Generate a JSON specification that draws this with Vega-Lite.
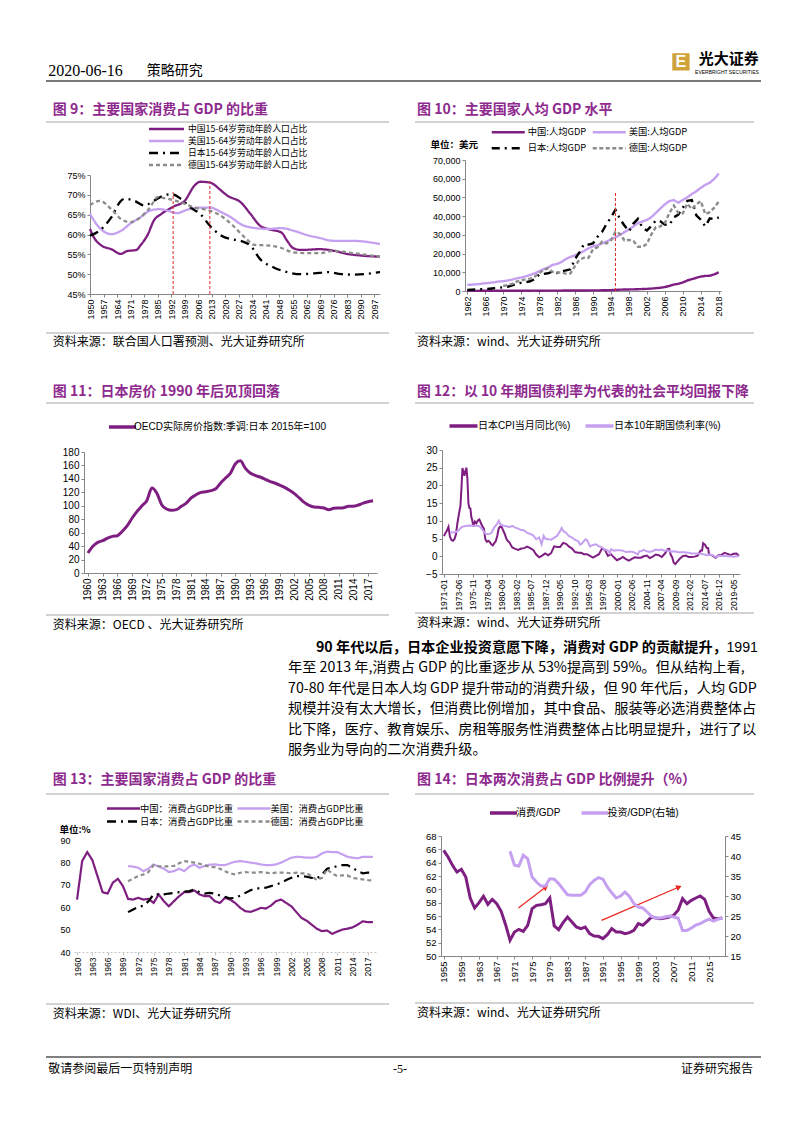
{
"$schema": "https://vega.github.io/schema/vega-lite/v6.json",
"background": "white",
"padding": {"left": 45, "top": 48, "right": 0, "bottom": 0},
"config": {
  "view": {"stroke": null},
  "font": "Liberation Sans",
  "axis": {"grid": false, "domainColor": "#868686", "tickColor": "#868686", "labelColor": "#000000", "labelFont": "Liberation Sans", "tickSize": 3, "labelPadding": 2}
},
"spacing": 0,
"align": "none",
"resolve": {"scale": {"color": "independent", "strokeDash": "independent"}},
"vconcat": [
{
  "width": 715, "height": 33,
  "layer": [
    {"data": {"values": [{}]}, "mark": {"type": "rule", "color": "#7a7a7a", "strokeWidth": 2},
     "encoding": {"y": {"datum": 0, "scale": {"domain": [0, 1]}, "axis": null}}},
    {"data": {"values": [{"t": "2020-06-16"}]}, "mark": {"type": "text", "align": "left", "baseline": "middle", "font": "Liberation Sans Narrow", "fontSize": 16, "color": "#000"},
     "encoding": {"text": {"field": "t"}, "x": {"datum": 0.003, "scale": {"domain": [0, 1]}, "axis": null}, "y": {"datum": 0.3, "scale": {"domain": [0, 1]}, "axis": null}}},
    {"data": {"values": [{"t": "策略研究"}]}, "mark": {"type": "text", "align": "left", "baseline": "middle", "font": "Noto Sans CJK SC", "fontSize": 14, "color": "#000"},
     "encoding": {"text": {"field": "t"}, "x": {"datum": 0.141, "scale": {"domain": [0, 1]}, "axis": null}, "y": {"datum": 0.3, "scale": {"domain": [0, 1]}, "axis": null}}},
    {"data": {"values": [{}]}, "mark": {"type": "point", "shape": "square", "filled": true, "color": "#CFA33A", "size": 300, "opacity": 1},
     "encoding": {"x": {"datum": 0.888, "scale": {"domain": [0, 1]}, "axis": null}, "y": {"datum": 0.58, "scale": {"domain": [0, 1]}, "axis": null}}},
    {"data": {"values": [{"t": "E"}]}, "mark": {"type": "text", "align": "center", "baseline": "middle", "font": "Liberation Sans", "fontWeight": "bold", "fontSize": 16, "color": "#ffffff"},
     "encoding": {"text": {"field": "t"}, "x": {"datum": 0.888, "scale": {"domain": [0, 1]}, "axis": null}, "y": {"datum": 0.58, "scale": {"domain": [0, 1]}, "axis": null}}},
    {"data": {"values": [{"t": "光大证券"}]}, "mark": {"type": "text", "align": "right", "baseline": "middle", "font": "Noto Sans CJK SC", "fontWeight": "bold", "fontSize": 15, "color": "#000"},
     "encoding": {"text": {"field": "t"}, "x": {"datum": 0.997, "scale": {"domain": [0, 1]}, "axis": null}, "y": {"datum": 0.667, "scale": {"domain": [0, 1]}, "axis": null}}},
    {"data": {"values": [{"t": "EVERBRIGHT SECURITIES"}]}, "mark": {"type": "text", "align": "right", "baseline": "middle", "font": "Liberation Sans", "fontSize": 5, "color": "#000"},
     "encoding": {"text": {"field": "t"}, "x": {"datum": 0.997, "scale": {"domain": [0, 1]}, "axis": null}, "y": {"datum": 0.27, "scale": {"domain": [0, 1]}, "axis": null}}}
  ]
},
{
  "spacing": 24, "align": "none",
  "resolve": {"scale": {"color": "independent", "strokeDash": "independent"}},
  "hconcat": [
    {
      "spacing": 0, "align": "none",
      "resolve": {"scale": {"color": "independent", "strokeDash": "independent"}},
      "vconcat": [
        {"width": 343, "height": 40,
         "layer": [
           {"data": {"values": [{"t": "图 9：主要国家消费占 GDP 的比重"}]}, "mark": {"type": "text", "align": "left", "baseline": "middle", "font": "Noto Sans CJK SC", "fontWeight": "bold", "fontSize": 14, "color": "#8E2A8E"},
            "encoding": {"text": {"field": "t"}, "x": {"datum": 0.02, "scale": {"domain": [0, 1]}, "axis": null}, "y": {"datum": 0.30, "scale": {"domain": [0, 1]}, "axis": null}}},
           {"data": {"values": [{}]}, "mark": {"type": "rule", "color": "#a6a6a6", "strokeWidth": 1},
            "encoding": {"y": {"datum": 0, "scale": {"domain": [0, 1]}, "axis": null}}}
         ]},
        {"spacing": 0, "align": "none",
         "resolve": {"scale": {"color": "independent", "strokeDash": "independent"}},
         "hconcat": [
          {"width": 1, "height": 1, "data": {"values": [{}]}, "mark": {"type": "text", "text": ""}},
          {"width": 290, "height": 119,
           "encoding": {
             "x": {"field": "x", "type": "quantitative", "scale": {"domain": [1950, 2100], "nice": false, "zero": false},
                   "axis": {"title": null, "values": [1950,1957,1964,1971,1978,1985,1992,1999,2006,2013,2020,2027,2034,2041,2048,2055,2062,2069,2076,2083,2090,2097], "format": "d", "labelAngle": 270, "labelFontSize": 9, "labelOverlap": false, "labelFlush": false, "minExtent": 38, "maxExtent": 38}},
             "y": {"field": "v", "type": "quantitative", "scale": {"domain": [45, 75], "nice": false, "zero": false},
                   "axis": {"title": null, "values": [45,50,55,60,65,70,75], "labelExpr": "datum.value + '%'", "labelFontSize": 9, "labelOverlap": false, "minExtent": 43, "maxExtent": 43}}
           },
           "layer": [
             {"data": {"values": [
               {"s":"中国","x":1950,"v":61.4},{"s":"中国","x":1952,"v":59.3},{"s":"中国","x":1956,"v":57.2},{"s":"中国","x":1961,"v":56.3},{"s":"中国","x":1966,"v":55.1},{"s":"中国","x":1969,"v":55.8},{"s":"中国","x":1974,"v":56.1},{"s":"中国","x":1976,"v":57.2},{"s":"中国","x":1980,"v":60.1},{"s":"中国","x":1983,"v":63.5},{"s":"中国","x":1987,"v":65.2},{"s":"中国","x":1993,"v":67.0},{"s":"中国","x":1999,"v":68.5},{"s":"中国","x":2004,"v":72.3},{"s":"中国","x":2007,"v":73.3},{"s":"中国","x":2012,"v":73.1},{"s":"中国","x":2018,"v":71.0},{"s":"中国","x":2021,"v":69.8},{"s":"中国","x":2028,"v":68.1},{"s":"中国","x":2033,"v":65.2},{"s":"中国","x":2038,"v":62.2},{"s":"中国","x":2042,"v":61.4},{"s":"中国","x":2049,"v":60.5},{"s":"中国","x":2052,"v":58.4},{"s":"中国","x":2055,"v":56.6},{"s":"中国","x":2059,"v":56.1},{"s":"中国","x":2069,"v":56.3},{"s":"中国","x":2076,"v":55.9},{"s":"中国","x":2083,"v":55.1},{"s":"中国","x":2090,"v":54.7},{"s":"中国","x":2100,"v":54.4},
               {"s":"美国","x":1950,"v":65.2},{"s":"美国","x":1954,"v":62.2},{"s":"美国","x":1961,"v":60.1},{"s":"美国","x":1966,"v":60.9},{"s":"美国","x":1971,"v":62.8},{"s":"美国","x":1976,"v":64.3},{"s":"美国","x":1981,"v":66.0},{"s":"美国","x":1986,"v":66.4},{"s":"美国","x":1990,"v":66.0},{"s":"美国","x":1995,"v":65.4},{"s":"美国","x":2000,"v":66.2},{"s":"美国","x":2007,"v":66.8},{"s":"美国","x":2012,"v":66.8},{"s":"美国","x":2018,"v":65.6},{"s":"美国","x":2023,"v":64.3},{"s":"美国","x":2028,"v":62.6},{"s":"美国","x":2033,"v":61.8},{"s":"美国","x":2042,"v":61.4},{"s":"美国","x":2049,"v":61.6},{"s":"美国","x":2055,"v":61.0},{"s":"美国","x":2062,"v":59.9},{"s":"美国","x":2069,"v":59.1},{"s":"美国","x":2076,"v":58.4},{"s":"美国","x":2086,"v":58.4},{"s":"美国","x":2100,"v":57.6},
               {"s":"日本","x":1950,"v":59.7},{"s":"日本","x":1955,"v":61.0},{"s":"日本","x":1961,"v":64.3},{"s":"日本","x":1966,"v":68.5},{"s":"日本","x":1968,"v":69.0},{"s":"日本","x":1973,"v":68.5},{"s":"日本","x":1978,"v":67.3},{"s":"日本","x":1983,"v":68.5},{"s":"日本","x":1988,"v":69.8},{"s":"日本","x":1992,"v":70.2},{"s":"日本","x":1997,"v":69.0},{"s":"日本","x":2002,"v":66.8},{"s":"日本","x":2007,"v":65.2},{"s":"日本","x":2012,"v":62.2},{"s":"日本","x":2018,"v":59.7},{"s":"日本","x":2023,"v":58.8},{"s":"日本","x":2028,"v":58.4},{"s":"日本","x":2033,"v":57.2},{"s":"日本","x":2038,"v":53.8},{"s":"日本","x":2045,"v":51.7},{"s":"日本","x":2052,"v":50.5},{"s":"日本","x":2059,"v":50.0},{"s":"日本","x":2066,"v":50.2},{"s":"日本","x":2073,"v":50.5},{"s":"日本","x":2080,"v":50.0},{"s":"日本","x":2086,"v":49.9},{"s":"日本","x":2100,"v":50.5},
               {"s":"德国","x":1950,"v":67.4},{"s":"德国","x":1955,"v":68.5},{"s":"德国","x":1961,"v":66.4},{"s":"德国","x":1966,"v":63.9},{"s":"德国","x":1971,"v":63.1},{"s":"德国","x":1976,"v":64.3},{"s":"德国","x":1981,"v":66.8},{"s":"德国","x":1985,"v":69.4},{"s":"德国","x":1990,"v":69.0},{"s":"德国","x":1997,"v":68.1},{"s":"德国","x":2004,"v":66.8},{"s":"德国","x":2012,"v":66.0},{"s":"德国","x":2019,"v":64.3},{"s":"德国","x":2024,"v":62.2},{"s":"德国","x":2030,"v":59.3},{"s":"德国","x":2035,"v":57.4},{"s":"德国","x":2043,"v":57.2},{"s":"德国","x":2049,"v":56.6},{"s":"德国","x":2055,"v":55.5},{"s":"德国","x":2062,"v":55.3},{"s":"德国","x":2069,"v":55.3},{"s":"德国","x":2076,"v":55.9},{"s":"德国","x":2083,"v":55.5},{"s":"德国","x":2100,"v":54.4}
             ]},
              "mark": {"type": "line", "strokeWidth": 2.3, "interpolate": "monotone"},
              "encoding": {
                "color": {"field": "s", "type": "nominal", "scale": {"domain": ["中国","美国","日本","德国"], "range": ["#7E1E80","#C6A0F0","#000000","#8C8C8C"]},
                          "legend": {"title": null, "orient": "none", "legendX": 71, "legendY": -51.5, "padding": 0, "columns": 1, "symbolType": "M-4.375,0L4.375,0", "symbolSize": 64, "symbolStrokeWidth": 2.5, "labelFont": "Noto Sans CJK SC", "labelFontSize": 8.8, "labelColor": "#000", "labelOffset": 16, "labelLimit": 300, "rowPadding": 1, "labelExpr": "datum.label + '15-64岁劳动年龄人口占比'"}},
                "strokeDash": {"field": "s", "type": "nominal", "scale": {"domain": ["中国","美国","日本","德国"], "range": [[1,0],[1,0],[9,5,2,5],[4,3]]},
                          "legend": {"title": null, "orient": "none", "legendX": 71, "legendY": -51.5, "padding": 0, "columns": 1, "symbolType": "M-4.375,0L4.375,0", "symbolSize": 64, "symbolStrokeWidth": 2.5, "labelFont": "Noto Sans CJK SC", "labelFontSize": 8.8, "labelColor": "#000", "labelOffset": 16, "labelLimit": 300, "rowPadding": 1, "labelExpr": "datum.label + '15-64岁劳动年龄人口占比'"}}
              }},
             {"data": {"values": [{"x": 1993, "v": 45, "hi": 70.7}, {"x": 2012, "v": 45, "hi": 73.4}]},
              "mark": {"type": "rule", "color": "#E02A2A", "strokeWidth": 1, "strokeDash": [3, 2]},
              "encoding": {"y2": {"field": "hi"}}}
           ]}
        ]},
        {"width": 343, "height": 20,
         "layer": [
           {"data": {"values": [{}]}, "mark": {"type": "rule", "color": "#a6a6a6", "strokeWidth": 1},
            "encoding": {"y": {"datum": 1, "scale": {"domain": [0, 1]}, "axis": null}}},
           {"data": {"values": [{"t": "资料来源：联合国人口署预测、光大证券研究所"}]}, "mark": {"type": "text", "align": "left", "baseline": "middle", "font": "Noto Sans CJK SC", "fontSize": 12, "color": "#000"},
            "encoding": {"text": {"field": "t"}, "x": {"datum": 0.02, "scale": {"domain": [0, 1]}, "axis": null}, "y": {"datum": 0.55, "scale": {"domain": [0, 1]}, "axis": null}}}
         ]}
      ]
    },
    {
      "spacing": 0, "align": "none",
      "resolve": {"scale": {"color": "independent", "strokeDash": "independent"}},
      "vconcat": [
        {"width": 339, "height": 40,
         "layer": [
           {"data": {"values": [{"t": "图 10：主要国家人均 GDP 水平"}]}, "mark": {"type": "text", "align": "left", "baseline": "middle", "font": "Noto Sans CJK SC", "fontWeight": "bold", "fontSize": 14, "color": "#8E2A8E"},
            "encoding": {"text": {"field": "t"}, "x": {"datum": 0.006, "scale": {"domain": [0, 1]}, "axis": null}, "y": {"datum": 0.30, "scale": {"domain": [0, 1]}, "axis": null}}},
           {"data": {"values": [{}]}, "mark": {"type": "rule", "color": "#a6a6a6", "strokeWidth": 1},
            "encoding": {"y": {"datum": 0, "scale": {"domain": [0, 1]}, "axis": null}}}
         ]},
        {"spacing": 0, "align": "none",
         "resolve": {"scale": {"color": "independent", "strokeDash": "independent"}},
         "hconcat": [
          {"width": 1, "height": 1, "data": {"values": [{}]}, "mark": {"type": "text", "text": ""}},
          {"width": 256, "height": 131,
           "encoding": {
             "x": {"field": "x", "type": "quantitative", "scale": {"domain": [1961.5, 2018.5], "nice": false, "zero": false},
                   "axis": {"title": null, "values": [1962,1966,1970,1974,1978,1982,1986,1990,1994,1998,2002,2006,2010,2014,2018], "format": "d", "labelAngle": 270, "labelFontSize": 9, "labelOverlap": false, "labelFlush": false, "minExtent": 41, "maxExtent": 41}},
             "y": {"field": "v", "type": "quantitative", "scale": {"domain": [0, 70000], "nice": false},
                   "axis": {"values": [0,10000,20000,30000,40000,50000,60000,70000], "format": ",d", "labelFontSize": 9, "labelOverlap": false, "minExtent": 49, "maxExtent": 49,
                            "title": "单位：美元", "titleAngle": 0, "titleAlign": "left", "titleBaseline": "middle", "titleX": -35, "titleY": -16, "titleFont": "Noto Sans CJK SC", "titleFontSize": 9.5, "titleFontWeight": "bold", "titleColor": "#000"}}
           },
           "layer": [
             {"data": {"values": [
               {"s":"中国","x":1962,"v":70},{"s":"中国","x":1963,"v":74},{"s":"中国","x":1964,"v":85},{"s":"中国","x":1965,"v":98},{"s":"中国","x":1966,"v":104},{"s":"中国","x":1967,"v":97},{"s":"中国","x":1968,"v":91},{"s":"中国","x":1969,"v":100},{"s":"中国","x":1970,"v":113},{"s":"中国","x":1971,"v":118},{"s":"中国","x":1972,"v":131},{"s":"中国","x":1973,"v":157},{"s":"中国","x":1974,"v":160},{"s":"中国","x":1975,"v":178},{"s":"中国","x":1976,"v":165},{"s":"中国","x":1977,"v":185},{"s":"中国","x":1978,"v":156},{"s":"中国","x":1979,"v":183},{"s":"中国","x":1980,"v":195},{"s":"中国","x":1981,"v":197},{"s":"中国","x":1982,"v":203},{"s":"中国","x":1983,"v":225},{"s":"中国","x":1984,"v":251},{"s":"中国","x":1985,"v":294},{"s":"中国","x":1986,"v":282},{"s":"中国","x":1987,"v":252},{"s":"中国","x":1988,"v":284},{"s":"中国","x":1989,"v":311},{"s":"中国","x":1990,"v":318},{"s":"中国","x":1991,"v":333},{"s":"中国","x":1992,"v":367},{"s":"中国","x":1993,"v":377},{"s":"中国","x":1994,"v":473},{"s":"中国","x":1995,"v":610},{"s":"中国","x":1996,"v":709},{"s":"中国","x":1997,"v":782},{"s":"中国","x":1998,"v":829},{"s":"中国","x":1999,"v":873},{"s":"中国","x":2000,"v":959},{"s":"中国","x":2001,"v":1053},{"s":"中国","x":2002,"v":1149},{"s":"中国","x":2003,"v":1289},{"s":"中国","x":2004,"v":1509},{"s":"中国","x":2005,"v":1753},{"s":"中国","x":2006,"v":2099},{"s":"中国","x":2007,"v":2694},{"s":"中国","x":2008,"v":3468},{"s":"中国","x":2009,"v":3832},{"s":"中国","x":2010,"v":4550},{"s":"中国","x":2011,"v":5618},{"s":"中国","x":2012,"v":6317},{"s":"中国","x":2013,"v":7051},{"s":"中国","x":2014,"v":7679},{"s":"中国","x":2015,"v":8067},{"s":"中国","x":2016,"v":8148},{"s":"中国","x":2017,"v":8879},{"s":"中国","x":2018,"v":9977},
               {"s":"美国","x":1962,"v":3243},{"s":"美国","x":1963,"v":3375},{"s":"美国","x":1964,"v":3574},{"s":"美国","x":1965,"v":3828},{"s":"美国","x":1966,"v":4146},{"s":"美国","x":1967,"v":4336},{"s":"美国","x":1968,"v":4696},{"s":"美国","x":1969,"v":5032},{"s":"美国","x":1970,"v":5234},{"s":"美国","x":1971,"v":5609},{"s":"美国","x":1972,"v":6094},{"s":"美国","x":1973,"v":6726},{"s":"美国","x":1974,"v":7226},{"s":"美国","x":1975,"v":7801},{"s":"美国","x":1976,"v":8592},{"s":"美国","x":1977,"v":9453},{"s":"美国","x":1978,"v":10565},{"s":"美国","x":1979,"v":11674},{"s":"美国","x":1980,"v":12575},{"s":"美国","x":1981,"v":13976},{"s":"美国","x":1982,"v":14434},{"s":"美国","x":1983,"v":15544},{"s":"美国","x":1984,"v":17121},{"s":"美国","x":1985,"v":18237},{"s":"美国","x":1986,"v":19071},{"s":"美国","x":1987,"v":20039},{"s":"美国","x":1988,"v":21417},{"s":"美国","x":1989,"v":22857},{"s":"美国","x":1990,"v":23889},{"s":"美国","x":1991,"v":24342},{"s":"美国","x":1992,"v":25419},{"s":"美国","x":1993,"v":26387},{"s":"美国","x":1994,"v":27695},{"s":"美国","x":1995,"v":28691},{"s":"美国","x":1996,"v":29968},{"s":"美国","x":1997,"v":31459},{"s":"美国","x":1998,"v":32854},{"s":"美国","x":1999,"v":34515},{"s":"美国","x":2000,"v":36330},{"s":"美国","x":2001,"v":37134},{"s":"美国","x":2002,"v":37998},{"s":"美国","x":2003,"v":39490},{"s":"美国","x":2004,"v":41725},{"s":"美国","x":2005,"v":44123},{"s":"美国","x":2006,"v":46302},{"s":"美国","x":2007,"v":48050},{"s":"美国","x":2008,"v":48570},{"s":"美国","x":2009,"v":47195},{"s":"美国","x":2010,"v":48651},{"s":"美国","x":2011,"v":50066},{"s":"美国","x":2012,"v":51784},{"s":"美国","x":2013,"v":53291},{"s":"美国","x":2014,"v":55124},{"s":"美国","x":2015,"v":56763},{"s":"美国","x":2016,"v":57867},{"s":"美国","x":2017,"v":59915},{"s":"美国","x":2018,"v":62805},
               {"s":"日本","x":1962,"v":610},{"s":"日本","x":1963,"v":707},{"s":"日本","x":1964,"v":836},{"s":"日本","x":1965,"v":920},{"s":"日本","x":1966,"v":1059},{"s":"日本","x":1967,"v":1229},{"s":"日本","x":1968,"v":1451},{"s":"日本","x":1969,"v":1669},{"s":"日本","x":1970,"v":2037},{"s":"日本","x":1971,"v":2272},{"s":"日本","x":1972,"v":2967},{"s":"日本","x":1973,"v":3998},{"s":"日本","x":1974,"v":4354},{"s":"日本","x":1975,"v":4659},{"s":"日本","x":1976,"v":5198},{"s":"日本","x":1977,"v":6335},{"s":"日本","x":1978,"v":8821},{"s":"日本","x":1979,"v":9105},{"s":"日本","x":1980,"v":9463},{"s":"日本","x":1981,"v":10361},{"s":"日本","x":1982,"v":9578},{"s":"日本","x":1983,"v":10425},{"s":"日本","x":1984,"v":10984},{"s":"日本","x":1985,"v":11585},{"s":"日本","x":1986,"v":17112},{"s":"日本","x":1987,"v":20745},{"s":"日本","x":1988,"v":25051},{"s":"日本","x":1989,"v":24813},{"s":"日本","x":1990,"v":25359},{"s":"日本","x":1991,"v":28925},{"s":"日本","x":1992,"v":31465},{"s":"日本","x":1993,"v":35766},{"s":"日本","x":1994,"v":39269},{"s":"日本","x":1995,"v":43429},{"s":"日本","x":1996,"v":38437},{"s":"日本","x":1997,"v":35022},{"s":"日本","x":1998,"v":31903},{"s":"日本","x":1999,"v":36027},{"s":"日本","x":2000,"v":38532},{"s":"日本","x":2001,"v":33846},{"s":"日本","x":2002,"v":32289},{"s":"日本","x":2003,"v":34808},{"s":"日本","x":2004,"v":37689},{"s":"日本","x":2005,"v":37218},{"s":"日本","x":2006,"v":35434},{"s":"日本","x":2007,"v":35275},{"s":"日本","x":2008,"v":39339},{"s":"日本","x":2009,"v":40855},{"s":"日本","x":2010,"v":44508},{"s":"日本","x":2011,"v":48168},{"s":"日本","x":2012,"v":48603},{"s":"日本","x":2013,"v":40454},{"s":"日本","x":2014,"v":38109},{"s":"日本","x":2015,"v":34524},{"s":"日本","x":2016,"v":38794},{"s":"日本","x":2017,"v":38332},{"s":"日本","x":2018,"v":39290},
               {"s":"德国","x":1970,"v":2761},{"s":"德国","x":1971,"v":3119},{"s":"德国","x":1972,"v":3779},{"s":"德国","x":1973,"v":5041},{"s":"德国","x":1974,"v":5676},{"s":"德国","x":1975,"v":6238},{"s":"德国","x":1976,"v":6637},{"s":"德国","x":1977,"v":7636},{"s":"德国","x":1978,"v":9477},{"s":"德国","x":1979,"v":11282},{"s":"德国","x":1980,"v":12139},{"s":"德国","x":1981,"v":10209},{"s":"德国","x":1982,"v":9914},{"s":"德国","x":1983,"v":9868},{"s":"德国","x":1984,"v":9300},{"s":"德国","x":1985,"v":9429},{"s":"德国","x":1986,"v":13464},{"s":"德国","x":1987,"v":16677},{"s":"德国","x":1988,"v":17820},{"s":"德国","x":1989,"v":17715},{"s":"德国","x":1990,"v":22304},{"s":"德国","x":1991,"v":23357},{"s":"德国","x":1992,"v":26370},{"s":"德国","x":1993,"v":25416},{"s":"德国","x":1994,"v":27045},{"s":"德国","x":1995,"v":31658},{"s":"德国","x":1996,"v":30487},{"s":"德国","x":1997,"v":26964},{"s":"德国","x":1998,"v":27289},{"s":"德国","x":1999,"v":26726},{"s":"德国","x":2000,"v":23636},{"s":"德国","x":2001,"v":23608},{"s":"德国","x":2002,"v":25197},{"s":"德国","x":2003,"v":30310},{"s":"德国","x":2004,"v":34107},{"s":"德国","x":2005,"v":34520},{"s":"德国","x":2006,"v":36354},{"s":"德国","x":2007,"v":41640},{"s":"德国","x":2008,"v":45612},{"s":"德国","x":2009,"v":41650},{"s":"德国","x":2010,"v":41532},{"s":"德国","x":2011,"v":46645},{"s":"德国","x":2012,"v":43858},{"s":"德国","x":2013,"v":46286},{"s":"德国","x":2014,"v":48024},{"s":"德国","x":2015,"v":41103},{"s":"德国","x":2016,"v":42136},{"s":"德国","x":2017,"v":44553},{"s":"德国","x":2018,"v":47811}
             ]},
              "mark": {"type": "line", "strokeWidth": 2.4},
              "encoding": {
                "color": {"field": "s", "type": "nominal", "scale": {"domain": ["中国","美国","日本","德国"], "range": ["#7E1E80","#C6A0F0","#000000","#8C8C8C"]},
                          "legend": {"title": null, "orient": "none", "direction": "horizontal", "legendX": 34, "legendY": -37, "padding": 3.75, "columns": 2, "columnPadding": 1, "rowPadding": 5, "symbolType": "M-4.125,0L4.125,0", "symbolSize": 64, "symbolStrokeWidth": 2.5, "labelFont": "Noto Sans CJK SC", "labelFontSize": 9.3, "labelColor": "#000", "labelOffset": 14, "labelLimit": 300, "labelExpr": "datum.label + ':人均GDP'"}},
                "strokeDash": {"field": "s", "type": "nominal", "scale": {"domain": ["中国","美国","日本","德国"], "range": [[1,0],[1,0],[8,5,2,5],[4,2.5]]},
                          "legend": {"title": null, "orient": "none", "direction": "horizontal", "legendX": 34, "legendY": -37, "padding": 3.75, "columns": 2, "columnPadding": 1, "rowPadding": 5, "symbolType": "M-4.125,0L4.125,0", "symbolSize": 64, "symbolStrokeWidth": 2.5, "labelFont": "Noto Sans CJK SC", "labelFontSize": 9.3, "labelColor": "#000", "labelOffset": 14, "labelLimit": 300, "labelExpr": "datum.label + ':人均GDP'"}}
              }},
             {"data": {"values": [{"x": 1995, "v": 0, "hi": 53000}]},
              "mark": {"type": "rule", "color": "#E02A2A", "strokeWidth": 1, "strokeDash": [3, 2]},
              "encoding": {"y2": {"field": "hi"}}}
           ]}
        ]},
        {"width": 339, "height": 20,
         "layer": [
           {"data": {"values": [{}]}, "mark": {"type": "rule", "color": "#a6a6a6", "strokeWidth": 1},
            "encoding": {"y": {"datum": 1, "scale": {"domain": [0, 1]}, "axis": null}}},
           {"data": {"values": [{"t": "资料来源：wind、光大证券研究所"}]}, "mark": {"type": "text", "align": "left", "baseline": "middle", "font": "Noto Sans CJK SC", "fontSize": 12, "color": "#000"},
            "encoding": {"text": {"field": "t"}, "x": {"datum": 0.006, "scale": {"domain": [0, 1]}, "axis": null}, "y": {"datum": 0.55, "scale": {"domain": [0, 1]}, "axis": null}}}
         ]}
      ]
    }
  ]
},
{
  "spacing": 24, "align": "none",
  "resolve": {"scale": {"color": "independent", "strokeDash": "independent"}},
  "hconcat": [
    {
      "spacing": 0, "align": "none",
      "resolve": {"scale": {"color": "independent", "strokeDash": "independent"}},
      "vconcat": [
        {"width": 343, "height": 50,
         "layer": [
           {"data": {"values": [{"t": "图 11：日本房价 1990 年后见顶回落"}]}, "mark": {"type": "text", "align": "left", "baseline": "middle", "font": "Noto Sans CJK SC", "fontWeight": "bold", "fontSize": 14, "color": "#8E2A8E"},
            "encoding": {"text": {"field": "t"}, "x": {"datum": 0.02, "scale": {"domain": [0, 1]}, "axis": null}, "y": {"datum": 0.22, "scale": {"domain": [0, 1]}, "axis": null}}},
           {"data": {"values": [{}]}, "mark": {"type": "rule", "color": "#a6a6a6", "strokeWidth": 1},
            "encoding": {"y": {"datum": 0, "scale": {"domain": [0, 1]}, "axis": null}}}
         ]},
        {"spacing": 0, "align": "none",
         "resolve": {"scale": {"color": "independent", "strokeDash": "independent"}},
         "hconcat": [
          {"width": 1, "height": 1, "data": {"values": [{}]}, "mark": {"type": "text", "text": ""}},
          {"width": 293, "height": 121,
           "data": {"values": [
             {"x":1960,"v":29.7},{"x":1961,"v":39.7},{"x":1962,"v":45.6},{"x":1963,"v":48},{"x":1964,"v":52},{"x":1965,"v":54.5},{"x":1966,"v":55.5},{"x":1967,"v":62},{"x":1968,"v":70.4},{"x":1969,"v":81.8},{"x":1970,"v":91.7},{"x":1971,"v":100},{"x":1972,"v":108},{"x":1973,"v":126.4},{"x":1974,"v":119},{"x":1975,"v":101.6},{"x":1976,"v":95.2},{"x":1977,"v":93.2},{"x":1978,"v":94.2},{"x":1979,"v":99.2},{"x":1980,"v":104},{"x":1981,"v":111.6},{"x":1982,"v":116.5},{"x":1983,"v":120},{"x":1984,"v":121},{"x":1985,"v":122.5},{"x":1986,"v":125.4},{"x":1987,"v":134},{"x":1988,"v":141.3},{"x":1989,"v":148.7},{"x":1990,"v":162.6},{"x":1991,"v":167},{"x":1992,"v":156},{"x":1993,"v":148.7},{"x":1994,"v":145.3},{"x":1995,"v":142.8},{"x":1996,"v":139.8},{"x":1997,"v":136.3},{"x":1998,"v":133.9},{"x":1999,"v":130.9},{"x":2000,"v":127.4},{"x":2001,"v":123},{"x":2002,"v":118},{"x":2003,"v":111.6},{"x":2004,"v":105},{"x":2005,"v":100.6},{"x":2006,"v":98.2},{"x":2007,"v":97.7},{"x":2008,"v":96.7},{"x":2009,"v":94.2},{"x":2010,"v":96.2},{"x":2011,"v":96.7},{"x":2012,"v":97.2},{"x":2013,"v":99.2},{"x":2014,"v":99.2},{"x":2015,"v":101.1},{"x":2016,"v":104},{"x":2017,"v":106},{"x":2018,"v":107.6}
           ]},
           "mark": {"type": "line", "strokeWidth": 3, "interpolate": "monotone"},
           "encoding": {
             "x": {"field": "x", "type": "quantitative", "scale": {"domain": [1959.2, 2018.8], "nice": false, "zero": false},
                   "axis": {"title": null, "values": [1960,1963,1966,1969,1972,1975,1978,1981,1984,1987,1990,1993,1996,1999,2002,2005,2008,2011,2014,2017], "format": "d", "labelAngle": 270, "labelFontSize": 10, "labelOverlap": false, "labelFlush": false, "minExtent": 41, "maxExtent": 41}},
             "y": {"field": "v", "type": "quantitative", "scale": {"domain": [0, 180], "nice": false},
                   "axis": {"title": null, "values": [0,20,40,60,80,100,120,140,160,180], "labelFontSize": 10, "labelOverlap": false, "minExtent": 37, "maxExtent": 37}},
             "color": {"datum": "OECD实际房价指数:季调:日本 2015年=100", "type": "nominal", "scale": {"range": ["#7E1E80"]},
                       "legend": {"title": null, "orient": "none", "legendX": 16, "legendY": -47.5, "padding": 16.5, "symbolType": "M-3.375,0L3.375,0", "symbolSize": 64, "symbolStrokeWidth": 3.5, "labelFont": "Liberation Sans, Noto Sans CJK SC", "labelFontSize": 10, "labelColor": "#000", "labelOffset": 5.5, "labelLimit": 300}}
           }}
        ]},
        {"width": 343, "height": 20,
         "layer": [
           {"data": {"values": [{}]}, "mark": {"type": "rule", "color": "#a6a6a6", "strokeWidth": 1},
            "encoding": {"y": {"datum": 1, "scale": {"domain": [0, 1]}, "axis": null}}},
           {"data": {"values": [{"t": "资料来源：OECD 、光大证券研究所"}]}, "mark": {"type": "text", "align": "left", "baseline": "middle", "font": "Noto Sans CJK SC", "fontSize": 12, "color": "#000"},
            "encoding": {"text": {"field": "t"}, "x": {"datum": 0.02, "scale": {"domain": [0, 1]}, "axis": null}, "y": {"datum": 0.5, "scale": {"domain": [0, 1]}, "axis": null}}}
         ]}
      ]
    },
    {
      "spacing": 0, "align": "none",
      "resolve": {"scale": {"color": "independent", "strokeDash": "independent"}},
      "vconcat": [
        {"width": 339, "height": 50,
         "layer": [
           {"data": {"values": [{"t": "图 12：以 10 年期国债利率为代表的社会平均回报下降"}]}, "mark": {"type": "text", "align": "left", "baseline": "middle", "font": "Noto Sans CJK SC", "fontWeight": "bold", "fontSize": 13.8, "color": "#8E2A8E"},
            "encoding": {"text": {"field": "t"}, "x": {"datum": 0.006, "scale": {"domain": [0, 1]}, "axis": null}, "y": {"datum": 0.22, "scale": {"domain": [0, 1]}, "axis": null}}},
           {"data": {"values": [{}]}, "mark": {"type": "rule", "color": "#a6a6a6", "strokeWidth": 1},
            "encoding": {"y": {"datum": 0, "scale": {"domain": [0, 1]}, "axis": null}}}
         ]},
        {"spacing": 0, "align": "none",
         "resolve": {"scale": {"color": "independent", "strokeDash": "independent"}},
         "hconcat": [
          {"width": 1, "height": 1, "data": {"values": [{}]}, "mark": {"type": "text", "text": ""}},
          {"width": 298, "height": 124,
           "data": {"format": {"parse": {"d": "utc:'%Y-%m'"}}, "values": [
             {"s":"CPI","d":"1971-01","v":5.7},{"s":"CPI","d":"1971-04","v":6.6},{"s":"CPI","d":"1971-07","v":7.3},{"s":"CPI","d":"1971-10","v":8.3},{"s":"CPI","d":"1972-01","v":5.5},{"s":"CPI","d":"1972-04","v":4.6},{"s":"CPI","d":"1972-07","v":4.4},{"s":"CPI","d":"1972-10","v":4.8},{"s":"CPI","d":"1973-01","v":6.2},{"s":"CPI","d":"1973-04","v":9.4},{"s":"CPI","d":"1973-07","v":11.9},{"s":"CPI","d":"1973-10","v":14.3},{"s":"CPI","d":"1973-12","v":19.1},{"s":"CPI","d":"1974-02","v":24.9},{"s":"CPI","d":"1974-04","v":23.8},{"s":"CPI","d":"1974-06","v":22.7},{"s":"CPI","d":"1974-08","v":24.1},{"s":"CPI","d":"1974-10","v":25.0},{"s":"CPI","d":"1974-12","v":21.9},{"s":"CPI","d":"1975-02","v":14.9},{"s":"CPI","d":"1975-04","v":13.6},{"s":"CPI","d":"1975-06","v":13.5},{"s":"CPI","d":"1975-08","v":11.0},{"s":"CPI","d":"1975-10","v":10.0},{"s":"CPI","d":"1975-12","v":8.4},{"s":"CPI","d":"1976-03","v":9.8},{"s":"CPI","d":"1976-06","v":9.3},{"s":"CPI","d":"1976-09","v":10.1},{"s":"CPI","d":"1976-12","v":10.4},{"s":"CPI","d":"1977-03","v":9.4},{"s":"CPI","d":"1977-06","v":8.5},{"s":"CPI","d":"1977-09","v":7.8},{"s":"CPI","d":"1977-12","v":4.8},{"s":"CPI","d":"1978-03","v":4.1},{"s":"CPI","d":"1978-06","v":4.4},{"s":"CPI","d":"1978-09","v":4.0},{"s":"CPI","d":"1978-12","v":3.4},{"s":"CPI","d":"1979-03","v":3.1},{"s":"CPI","d":"1979-06","v":3.7},{"s":"CPI","d":"1979-09","v":4.3},{"s":"CPI","d":"1979-12","v":5.8},{"s":"CPI","d":"1980-03","v":7.9},{"s":"CPI","d":"1980-06","v":8.4},{"s":"CPI","d":"1980-09","v":8.2},{"s":"CPI","d":"1980-12","v":7.2},{"s":"CPI","d":"1981-03","v":6.3},{"s":"CPI","d":"1981-06","v":5.0},{"s":"CPI","d":"1981-09","v":4.3},{"s":"CPI","d":"1981-12","v":4.0},{"s":"CPI","d":"1982-06","v":2.5},{"s":"CPI","d":"1982-12","v":2.1},{"s":"CPI","d":"1983-06","v":1.8},{"s":"CPI","d":"1983-12","v":2.2},{"s":"CPI","d":"1984-06","v":2.3},{"s":"CPI","d":"1984-12","v":2.7},{"s":"CPI","d":"1985-06","v":2.3},{"s":"CPI","d":"1985-12","v":1.8},{"s":"CPI","d":"1986-06","v":0.5},{"s":"CPI","d":"1986-12","v":-0.3},{"s":"CPI","d":"1987-06","v":0.2},{"s":"CPI","d":"1987-12","v":0.8},{"s":"CPI","d":"1988-06","v":0.3},{"s":"CPI","d":"1988-12","v":0.9},{"s":"CPI","d":"1989-06","v":2.8},{"s":"CPI","d":"1989-12","v":2.6},{"s":"CPI","d":"1990-06","v":2.6},{"s":"CPI","d":"1990-12","v":3.8},{"s":"CPI","d":"1991-06","v":3.5},{"s":"CPI","d":"1991-12","v":2.7},{"s":"CPI","d":"1992-06","v":2.2},{"s":"CPI","d":"1992-12","v":1.2},{"s":"CPI","d":"1993-06","v":1.0},{"s":"CPI","d":"1993-12","v":1.0},{"s":"CPI","d":"1994-06","v":0.6},{"s":"CPI","d":"1994-12","v":0.6},{"s":"CPI","d":"1995-06","v":0.1},{"s":"CPI","d":"1995-12","v":-0.4},{"s":"CPI","d":"1996-06","v":0.1},{"s":"CPI","d":"1996-12","v":0.6},{"s":"CPI","d":"1997-06","v":2.2},{"s":"CPI","d":"1997-12","v":1.8},{"s":"CPI","d":"1998-06","v":0.1},{"s":"CPI","d":"1998-12","v":0.6},{"s":"CPI","d":"1999-06","v":-0.3},{"s":"CPI","d":"1999-12","v":-1.1},{"s":"CPI","d":"2000-06","v":-0.7},{"s":"CPI","d":"2000-12","v":-0.2},{"s":"CPI","d":"2001-06","v":-0.8},{"s":"CPI","d":"2001-12","v":-1.2},{"s":"CPI","d":"2002-06","v":-0.7},{"s":"CPI","d":"2002-12","v":-0.3},{"s":"CPI","d":"2003-06","v":-0.4},{"s":"CPI","d":"2003-12","v":-0.4},{"s":"CPI","d":"2004-06","v":0.0},{"s":"CPI","d":"2004-12","v":0.2},{"s":"CPI","d":"2005-06","v":-0.5},{"s":"CPI","d":"2005-12","v":-0.1},{"s":"CPI","d":"2006-06","v":0.5},{"s":"CPI","d":"2006-12","v":0.3},{"s":"CPI","d":"2007-06","v":-0.2},{"s":"CPI","d":"2007-12","v":0.7},{"s":"CPI","d":"2008-06","v":2.0},{"s":"CPI","d":"2008-09","v":2.1},{"s":"CPI","d":"2008-12","v":0.4},{"s":"CPI","d":"2009-03","v":-0.3},{"s":"CPI","d":"2009-06","v":-1.8},{"s":"CPI","d":"2009-09","v":-2.2},{"s":"CPI","d":"2009-12","v":-1.7},{"s":"CPI","d":"2010-06","v":-0.7},{"s":"CPI","d":"2010-12","v":0.0},{"s":"CPI","d":"2011-06","v":0.2},{"s":"CPI","d":"2011-12","v":-0.2},{"s":"CPI","d":"2012-06","v":-0.2},{"s":"CPI","d":"2012-12","v":-0.1},{"s":"CPI","d":"2013-06","v":0.2},{"s":"CPI","d":"2013-12","v":1.6},{"s":"CPI","d":"2014-03","v":1.6},{"s":"CPI","d":"2014-05","v":3.7},{"s":"CPI","d":"2014-09","v":3.2},{"s":"CPI","d":"2014-12","v":2.4},{"s":"CPI","d":"2015-03","v":2.3},{"s":"CPI","d":"2015-05","v":0.5},{"s":"CPI","d":"2015-12","v":0.2},{"s":"CPI","d":"2016-06","v":-0.4},{"s":"CPI","d":"2016-12","v":0.3},{"s":"CPI","d":"2017-06","v":0.4},{"s":"CPI","d":"2017-12","v":1.0},{"s":"CPI","d":"2018-06","v":0.7},{"s":"CPI","d":"2018-12","v":0.3},{"s":"CPI","d":"2019-06","v":0.7},{"s":"CPI","d":"2019-12","v":0.8},{"s":"CPI","d":"2020-03","v":0.4},{"s":"CPI","d":"2020-05","v":0.1},
             {"s":"JGB","d":"1972-02","v":6.9},{"s":"JGB","d":"1972-06","v":6.7},{"s":"JGB","d":"1972-12","v":6.8},{"s":"JGB","d":"1973-06","v":7.3},{"s":"JGB","d":"1973-12","v":8.2},{"s":"JGB","d":"1974-06","v":8.5},{"s":"JGB","d":"1974-12","v":8.6},{"s":"JGB","d":"1975-06","v":8.7},{"s":"JGB","d":"1975-12","v":8.6},{"s":"JGB","d":"1976-06","v":8.6},{"s":"JGB","d":"1976-12","v":8.5},{"s":"JGB","d":"1977-06","v":7.5},{"s":"JGB","d":"1977-12","v":6.4},{"s":"JGB","d":"1978-06","v":6.2},{"s":"JGB","d":"1978-12","v":6.6},{"s":"JGB","d":"1979-06","v":8.2},{"s":"JGB","d":"1979-12","v":9.2},{"s":"JGB","d":"1980-03","v":10.0},{"s":"JGB","d":"1980-06","v":9.0},{"s":"JGB","d":"1980-09","v":8.9},{"s":"JGB","d":"1980-12","v":8.6},{"s":"JGB","d":"1981-06","v":8.5},{"s":"JGB","d":"1981-12","v":8.2},{"s":"JGB","d":"1982-06","v":8.6},{"s":"JGB","d":"1982-12","v":8.1},{"s":"JGB","d":"1983-06","v":7.8},{"s":"JGB","d":"1983-12","v":7.4},{"s":"JGB","d":"1984-06","v":7.3},{"s":"JGB","d":"1984-12","v":6.6},{"s":"JGB","d":"1985-06","v":6.3},{"s":"JGB","d":"1985-12","v":5.9},{"s":"JGB","d":"1986-06","v":4.8},{"s":"JGB","d":"1986-12","v":5.3},{"s":"JGB","d":"1987-05","v":3.4},{"s":"JGB","d":"1987-09","v":5.8},{"s":"JGB","d":"1987-12","v":5.0},{"s":"JGB","d":"1988-06","v":4.8},{"s":"JGB","d":"1988-12","v":4.7},{"s":"JGB","d":"1989-06","v":5.2},{"s":"JGB","d":"1989-12","v":5.8},{"s":"JGB","d":"1990-06","v":7.1},{"s":"JGB","d":"1990-09","v":8.0},{"s":"JGB","d":"1990-12","v":7.2},{"s":"JGB","d":"1991-06","v":6.6},{"s":"JGB","d":"1991-12","v":5.7},{"s":"JGB","d":"1992-06","v":5.3},{"s":"JGB","d":"1992-12","v":4.6},{"s":"JGB","d":"1993-06","v":4.3},{"s":"JGB","d":"1993-10","v":3.3},{"s":"JGB","d":"1994-01","v":3.5},{"s":"JGB","d":"1994-09","v":4.8},{"s":"JGB","d":"1994-12","v":4.6},{"s":"JGB","d":"1995-06","v":2.8},{"s":"JGB","d":"1995-12","v":3.2},{"s":"JGB","d":"1996-06","v":3.4},{"s":"JGB","d":"1996-12","v":2.8},{"s":"JGB","d":"1997-06","v":2.5},{"s":"JGB","d":"1997-12","v":1.9},{"s":"JGB","d":"1998-06","v":1.6},{"s":"JGB","d":"1998-10","v":0.8},{"s":"JGB","d":"1998-12","v":2.0},{"s":"JGB","d":"1999-06","v":1.6},{"s":"JGB","d":"1999-12","v":1.7},{"s":"JGB","d":"2000-06","v":1.7},{"s":"JGB","d":"2000-12","v":1.6},{"s":"JGB","d":"2001-06","v":1.2},{"s":"JGB","d":"2001-12","v":1.3},{"s":"JGB","d":"2002-06","v":1.3},{"s":"JGB","d":"2002-12","v":1.0},{"s":"JGB","d":"2003-06","v":0.5},{"s":"JGB","d":"2003-09","v":1.4},{"s":"JGB","d":"2003-12","v":1.4},{"s":"JGB","d":"2004-06","v":1.8},{"s":"JGB","d":"2004-12","v":1.4},{"s":"JGB","d":"2005-06","v":1.2},{"s":"JGB","d":"2005-12","v":1.5},{"s":"JGB","d":"2006-06","v":1.9},{"s":"JGB","d":"2006-12","v":1.7},{"s":"JGB","d":"2007-06","v":1.9},{"s":"JGB","d":"2007-12","v":1.5},{"s":"JGB","d":"2008-06","v":1.7},{"s":"JGB","d":"2008-12","v":1.3},{"s":"JGB","d":"2009-06","v":1.4},{"s":"JGB","d":"2009-12","v":1.3},{"s":"JGB","d":"2010-06","v":1.1},{"s":"JGB","d":"2010-12","v":1.2},{"s":"JGB","d":"2011-06","v":1.1},{"s":"JGB","d":"2011-12","v":1.0},{"s":"JGB","d":"2012-06","v":0.8},{"s":"JGB","d":"2012-12","v":0.8},{"s":"JGB","d":"2013-06","v":0.8},{"s":"JGB","d":"2013-12","v":0.7},{"s":"JGB","d":"2014-06","v":0.6},{"s":"JGB","d":"2014-12","v":0.3},{"s":"JGB","d":"2015-06","v":0.5},{"s":"JGB","d":"2015-12","v":0.3},{"s":"JGB","d":"2016-06","v":-0.2},{"s":"JGB","d":"2016-12","v":0.05},{"s":"JGB","d":"2017-06","v":0.05},{"s":"JGB","d":"2017-12","v":0.05},{"s":"JGB","d":"2018-06","v":0.03},{"s":"JGB","d":"2018-12","v":0.0},{"s":"JGB","d":"2019-06","v":-0.15},{"s":"JGB","d":"2019-12","v":-0.02},{"s":"JGB","d":"2020-03","v":0.0},{"s":"JGB","d":"2020-05","v":0.0}
           ]},
           "mark": {"type": "line", "strokeWidth": 2},
           "encoding": {
             "x": {"field": "d", "type": "temporal", "scale": {"type": "utc", "domain": [{"year": 1970, "month": 9, "date": 1, "utc": true}, {"year": 2020, "month": 7, "date": 1, "utc": true}], "nice": false},
                   "axis": {"title": null, "values": [{"year":1971,"month":1,"date":1,"utc":true},{"year":1973,"month":6,"date":1,"utc":true},{"year":1975,"month":11,"date":1,"utc":true},{"year":1978,"month":4,"date":1,"utc":true},{"year":1980,"month":9,"date":1,"utc":true},{"year":1983,"month":2,"date":1,"utc":true},{"year":1985,"month":7,"date":1,"utc":true},{"year":1987,"month":12,"date":1,"utc":true},{"year":1990,"month":5,"date":1,"utc":true},{"year":1992,"month":10,"date":1,"utc":true},{"year":1995,"month":3,"date":1,"utc":true},{"year":1997,"month":8,"date":1,"utc":true},{"year":2000,"month":1,"date":1,"utc":true},{"year":2002,"month":6,"date":1,"utc":true},{"year":2004,"month":11,"date":1,"utc":true},{"year":2007,"month":4,"date":1,"utc":true},{"year":2009,"month":9,"date":1,"utc":true},{"year":2012,"month":2,"date":1,"utc":true},{"year":2014,"month":7,"date":1,"utc":true},{"year":2016,"month":12,"date":1,"utc":true},{"year":2019,"month":5,"date":1,"utc":true}],
                            "labelExpr": "utcFormat(datum.value, '%Y-%m')", "labelAngle": 270, "labelFontSize": 8.5, "labelOverlap": false, "labelFlush": false, "minExtent": 38, "maxExtent": 38}},
             "y": {"field": "v", "type": "quantitative", "scale": {"domain": [-5, 30], "nice": false, "zero": false},
                   "axis": {"title": null, "values": [-5,0,5,10,15,20,25,30], "labelFontSize": 10, "labelOverlap": false, "minExtent": 26, "maxExtent": 26}},
             "color": {"field": "s", "type": "nominal", "scale": {"domain": ["CPI","JGB"], "range": ["#7E1E80","#C6A0F0"]},
                       "legend": {"title": null, "orient": "none", "direction": "horizontal", "legendX": 0, "legendY": -45.5, "padding": 15.5, "columns": 2, "columnPadding": 8, "symbolType": "M-3.5,0L3.5,0", "symbolSize": 64, "symbolStrokeWidth": 3.5, "labelFont": "Liberation Sans, Noto Sans CJK SC", "labelFontSize": 10, "labelColor": "#000", "labelOffset": 8.5, "labelLimit": 300, "labelExpr": "datum.label === 'CPI' ? '日本CPI当月同比(%)' : '日本10年期国债利率(%)'"}}
           }}
        ]},
        {"width": 339, "height": 20,
         "layer": [
           {"data": {"values": [{}]}, "mark": {"type": "rule", "color": "#a6a6a6", "strokeWidth": 1},
            "encoding": {"y": {"datum": 1, "scale": {"domain": [0, 1]}, "axis": null}}},
           {"data": {"values": [{"t": "资料来源：wind、光大证券研究所"}]}, "mark": {"type": "text", "align": "left", "baseline": "middle", "font": "Noto Sans CJK SC", "fontSize": 12, "color": "#000"},
            "encoding": {"text": {"field": "t"}, "x": {"datum": 0.006, "scale": {"domain": [0, 1]}, "axis": null}, "y": {"datum": 0.5, "scale": {"domain": [0, 1]}, "axis": null}}}
         ]}
      ]
    }
  ]
},
{
  "width": 715, "height": 130,
  "data": {"values": [
    {"line": 1, "part": "lead", "t": "90 年代以后，日本企业投资意愿下降，消费对 GDP 的贡献提升，"},
    {"line": 1, "part": "tail", "t": "1991"},
    {"line": 2, "part": "body", "t": "年至 2013 年,消费占 GDP 的比重逐步从 53%提高到 59%。但从结构上看,"},
    {"line": 3, "part": "body", "t": "70-80 年代是日本人均 GDP 提升带动的消费升级，但 90 年代后，人均 GDP"},
    {"line": 4, "part": "body", "t": "规模并没有太大增长，但消费比例增加，其中食品、服装等必选消费整体占"},
    {"line": 5, "part": "body", "t": "比下降，医疗、教育娱乐、房租等服务性消费整体占比明显提升，进行了以"},
    {"line": 6, "part": "body", "t": "服务业为导向的二次消费升级。"}
  ]},
  "layer": [
    {"transform": [{"filter": "datum.part === 'lead'"}],
     "mark": {"type": "text", "align": "left", "baseline": "middle", "font": "Noto Sans CJK SC", "fontWeight": "bold", "fontSize": 14.2, "color": "#000"},
     "encoding": {"text": {"field": "t"}, "x": {"datum": 0.3776, "scale": {"domain": [0, 1]}, "axis": null}, "y": {"field": "line", "type": "quantitative", "scale": {"domain": [0.39, 6.731], "reverse": true, "nice": false, "zero": false}, "axis": null}}},
    {"transform": [{"filter": "datum.part === 'body'"}],
     "mark": {"type": "text", "align": "left", "baseline": "middle", "font": "Noto Sans CJK SC", "fontSize": 14.2, "color": "#000"},
     "encoding": {"text": {"field": "t"}, "x": {"datum": 0.3385, "scale": {"domain": [0, 1]}, "axis": null}, "y": {"field": "line", "type": "quantitative", "scale": {"domain": [0.39, 6.731], "reverse": true, "nice": false, "zero": false}, "axis": null}}},
    {"transform": [{"filter": "datum.part === 'tail'"}],
     "mark": {"type": "text", "align": "right", "baseline": "middle", "font": "Liberation Sans", "fontSize": 14.2, "color": "#000"},
     "encoding": {"text": {"field": "t"}, "x": {"datum": 0.9958, "scale": {"domain": [0, 1]}, "axis": null}, "y": {"field": "line", "type": "quantitative", "scale": {"domain": [0.39, 6.731], "reverse": true, "nice": false, "zero": false}, "axis": null}}}
  ]
},
{
  "spacing": 24, "align": "none",
  "resolve": {"scale": {"color": "independent", "strokeDash": "independent"}},
  "hconcat": [
    {
      "spacing": 0, "align": "none",
      "resolve": {"scale": {"color": "independent", "strokeDash": "independent"}},
      "vconcat": [
        {"width": 343, "height": 29,
         "layer": [
           {"data": {"values": [{"t": "图 13：主要国家消费占 GDP 的比重"}]}, "mark": {"type": "text", "align": "left", "baseline": "middle", "font": "Noto Sans CJK SC", "fontWeight": "bold", "fontSize": 14, "color": "#8E2A8E"},
            "encoding": {"text": {"field": "t"}, "x": {"datum": 0.02, "scale": {"domain": [0, 1]}, "axis": null}, "y": {"datum": 0.483, "scale": {"domain": [0, 1]}, "axis": null}}},
           {"data": {"values": [{}]}, "mark": {"type": "rule", "color": "#a6a6a6", "strokeWidth": 1},
            "encoding": {"y": {"datum": 0, "scale": {"domain": [0, 1]}, "axis": null}}}
         ]},
        {"spacing": 0, "align": "none",
         "resolve": {"scale": {"color": "independent", "strokeDash": "independent"}},
         "hconcat": [
          {"width": 1, "height": 1, "data": {"values": [{}]}, "mark": {"type": "text", "text": ""}},
          {"width": 302, "height": 112,
           "data": {"values": [
             {"s":"中国","x":1960,"v":63.4},{"s":"中国","x":1961,"v":80.6},{"s":"中国","x":1962,"v":84.6},{"s":"中国","x":1963,"v":81.0},{"s":"中国","x":1964,"v":73.9},{"s":"中国","x":1965,"v":66.7},{"s":"中国","x":1966,"v":66.1},{"s":"中国","x":1967,"v":70.9},{"s":"中国","x":1968,"v":72.7},{"s":"中国","x":1969,"v":69.4},{"s":"中国","x":1970,"v":63.7},{"s":"中国","x":1971,"v":63.4},{"s":"中国","x":1972,"v":64.2},{"s":"中国","x":1973,"v":63.4},{"s":"中国","x":1974,"v":63.7},{"s":"中国","x":1975,"v":61.9},{"s":"中国","x":1976,"v":65.7},{"s":"中国","x":1977,"v":62.7},{"s":"中国","x":1978,"v":60.4},{"s":"中国","x":1979,"v":62.7},{"s":"中国","x":1980,"v":64.9},{"s":"中国","x":1981,"v":66.7},{"s":"中国","x":1982,"v":66.7},{"s":"中国","x":1983,"v":67.5},{"s":"中国","x":1984,"v":65.7},{"s":"中国","x":1985,"v":64.9},{"s":"中国","x":1986,"v":64.9},{"s":"中国","x":1987,"v":62.7},{"s":"中国","x":1988,"v":61.9},{"s":"中国","x":1989,"v":64.2},{"s":"中国","x":1990,"v":63.4},{"s":"中国","x":1991,"v":61.9},{"s":"中国","x":1992,"v":59.7},{"s":"中国","x":1993,"v":58.2},{"s":"中国","x":1994,"v":57.9},{"s":"中国","x":1995,"v":58.7},{"s":"中国","x":1996,"v":59.7},{"s":"中国","x":1997,"v":59.4},{"s":"中国","x":1998,"v":60.7},{"s":"中国","x":1999,"v":62.7},{"s":"中国","x":2000,"v":63.4},{"s":"中国","x":2001,"v":61.9},{"s":"中国","x":2002,"v":60.4},{"s":"中国","x":2003,"v":57.8},{"s":"中国","x":2004,"v":55.2},{"s":"中国","x":2005,"v":54.0},{"s":"中国","x":2006,"v":52.2},{"s":"中国","x":2007,"v":50.4},{"s":"中国","x":2008,"v":49.3},{"s":"中国","x":2009,"v":49.6},{"s":"中国","x":2010,"v":48.1},{"s":"中国","x":2011,"v":49.1},{"s":"中国","x":2012,"v":50.0},{"s":"中国","x":2013,"v":50.4},{"s":"中国","x":2014,"v":51.0},{"s":"中国","x":2015,"v":52.2},{"s":"中国","x":2016,"v":53.7},{"s":"中国","x":2017,"v":53.3},{"s":"中国","x":2018,"v":53.3},
             {"s":"美国","x":1970,"v":78.4},{"s":"美国","x":1971,"v":78.1},{"s":"美国","x":1972,"v":77.6},{"s":"美国","x":1973,"v":76.1},{"s":"美国","x":1974,"v":77.2},{"s":"美国","x":1975,"v":79.1},{"s":"美国","x":1976,"v":78.1},{"s":"美国","x":1977,"v":77.2},{"s":"美国","x":1978,"v":75.7},{"s":"美国","x":1979,"v":76.1},{"s":"美国","x":1980,"v":77.2},{"s":"美国","x":1981,"v":76.1},{"s":"美国","x":1982,"v":78.1},{"s":"美国","x":1983,"v":79.1},{"s":"美国","x":1984,"v":77.6},{"s":"美国","x":1985,"v":78.4},{"s":"美国","x":1986,"v":79.0},{"s":"美国","x":1987,"v":79.1},{"s":"美国","x":1988,"v":78.8},{"s":"美国","x":1989,"v":78.8},{"s":"美国","x":1990,"v":79.6},{"s":"美国","x":1991,"v":80.3},{"s":"美国","x":1992,"v":80.6},{"s":"美国","x":1993,"v":80.3},{"s":"美国","x":1994,"v":79.9},{"s":"美国","x":1995,"v":79.6},{"s":"美国","x":1996,"v":79.1},{"s":"美国","x":1997,"v":78.8},{"s":"美国","x":1998,"v":78.8},{"s":"美国","x":1999,"v":79.1},{"s":"美国","x":2000,"v":79.9},{"s":"美国","x":2001,"v":81.0},{"s":"美国","x":2002,"v":82.1},{"s":"美国","x":2003,"v":82.5},{"s":"美国","x":2004,"v":82.4},{"s":"美国","x":2005,"v":82.1},{"s":"美国","x":2006,"v":82.1},{"s":"美国","x":2007,"v":82.5},{"s":"美国","x":2008,"v":84.0},{"s":"美国","x":2009,"v":84.8},{"s":"美国","x":2010,"v":84.6},{"s":"美国","x":2011,"v":84.6},{"s":"美国","x":2012,"v":83.6},{"s":"美国","x":2013,"v":82.5},{"s":"美国","x":2014,"v":82.1},{"s":"美国","x":2015,"v":81.8},{"s":"美国","x":2016,"v":82.5},{"s":"美国","x":2017,"v":82.5},{"s":"美国","x":2018,"v":82.4},
             {"s":"日本","x":1970,"v":57.8},{"s":"日本","x":1971,"v":59.0},{"s":"日本","x":1972,"v":60.1},{"s":"日本","x":1973,"v":60.7},{"s":"日本","x":1974,"v":62.7},{"s":"日本","x":1975,"v":65.7},{"s":"日本","x":1976,"v":65.7},{"s":"日本","x":1977,"v":65.7},{"s":"日本","x":1978,"v":66.1},{"s":"日本","x":1979,"v":66.4},{"s":"日本","x":1980,"v":66.7},{"s":"日本","x":1981,"v":66.9},{"s":"日本","x":1982,"v":67.2},{"s":"日本","x":1983,"v":67.9},{"s":"日本","x":1984,"v":66.7},{"s":"日本","x":1985,"v":66.1},{"s":"日本","x":1986,"v":66.4},{"s":"日本","x":1987,"v":66.1},{"s":"日本","x":1988,"v":65.2},{"s":"日本","x":1989,"v":64.6},{"s":"日本","x":1990,"v":63.9},{"s":"日本","x":1991,"v":64.2},{"s":"日本","x":1992,"v":65.2},{"s":"日本","x":1993,"v":66.4},{"s":"日本","x":1994,"v":67.6},{"s":"日本","x":1995,"v":68.4},{"s":"日本","x":1996,"v":68.4},{"s":"日本","x":1997,"v":68.7},{"s":"日本","x":1998,"v":69.4},{"s":"日本","x":1999,"v":70.1},{"s":"日本","x":2000,"v":70.9},{"s":"日本","x":2001,"v":72.1},{"s":"日本","x":2002,"v":73.1},{"s":"日本","x":2003,"v":73.9},{"s":"日本","x":2004,"v":73.9},{"s":"日本","x":2005,"v":73.6},{"s":"日本","x":2006,"v":73.1},{"s":"日本","x":2007,"v":72.8},{"s":"日本","x":2008,"v":74.6},{"s":"日本","x":2009,"v":77.2},{"s":"日本","x":2010,"v":77.6},{"s":"日本","x":2011,"v":78.4},{"s":"日本","x":2012,"v":78.8},{"s":"日本","x":2013,"v":78.8},{"s":"日本","x":2014,"v":77.6},{"s":"日本","x":2015,"v":76.1},{"s":"日本","x":2016,"v":75.1},{"s":"日本","x":2017,"v":75.4},{"s":"日本","x":2018,"v":75.4},
             {"s":"德国","x":1970,"v":71.6},{"s":"德国","x":1971,"v":72.8},{"s":"德国","x":1972,"v":73.9},{"s":"德国","x":1973,"v":74.6},{"s":"德国","x":1974,"v":75.7},{"s":"德国","x":1975,"v":78.8},{"s":"德国","x":1976,"v":78.4},{"s":"德国","x":1977,"v":78.1},{"s":"德国","x":1978,"v":78.4},{"s":"德国","x":1979,"v":78.4},{"s":"德国","x":1980,"v":79.6},{"s":"德国","x":1981,"v":80.6},{"s":"德国","x":1982,"v":80.3},{"s":"德国","x":1983,"v":79.9},{"s":"德国","x":1984,"v":79.4},{"s":"德国","x":1985,"v":78.7},{"s":"德国","x":1986,"v":78.1},{"s":"德国","x":1987,"v":77.9},{"s":"德国","x":1988,"v":77.2},{"s":"德国","x":1989,"v":76.1},{"s":"德国","x":1990,"v":75.1},{"s":"德国","x":1991,"v":74.6},{"s":"德国","x":1992,"v":75.4},{"s":"德国","x":1993,"v":75.7},{"s":"德国","x":1994,"v":75.4},{"s":"德国","x":1995,"v":75.4},{"s":"德国","x":1996,"v":75.7},{"s":"德国","x":1997,"v":75.4},{"s":"德国","x":1998,"v":75.1},{"s":"德国","x":1999,"v":75.4},{"s":"德国","x":2000,"v":75.4},{"s":"德国","x":2001,"v":75.4},{"s":"德国","x":2002,"v":75.1},{"s":"德国","x":2003,"v":75.4},{"s":"德国","x":2004,"v":75.1},{"s":"德国","x":2005,"v":75.1},{"s":"德国","x":2006,"v":73.9},{"s":"德国","x":2007,"v":72.1},{"s":"德国","x":2008,"v":73.1},{"s":"德国","x":2009,"v":76.9},{"s":"德国","x":2010,"v":75.1},{"s":"德国","x":2011,"v":73.9},{"s":"德国","x":2012,"v":74.2},{"s":"德国","x":2013,"v":74.2},{"s":"德国","x":2014,"v":73.1},{"s":"德国","x":2015,"v":72.7},{"s":"德国","x":2016,"v":72.4},{"s":"德国","x":2017,"v":72.1},{"s":"德国","x":2018,"v":71.9}
           ]},
           "mark": {"type": "line", "strokeWidth": 2.2},
           "encoding": {
             "x": {"field": "x", "type": "quantitative", "scale": {"domain": [1959.4, 2018.6], "nice": false, "zero": false},
                   "axis": {"title": null, "values": [1960,1963,1966,1969,1972,1975,1978,1981,1984,1987,1990,1993,1996,1999,2002,2005,2008,2011,2014,2017], "format": "d", "labelAngle": 270, "labelFontSize": 8.5, "labelOverlap": false, "labelFlush": false, "domainColor": "#c4c4c4", "domainDash": [2, 2], "tickColor": "#c4c4c4", "minExtent": 51, "maxExtent": 51}},
             "y": {"field": "v", "type": "quantitative", "scale": {"domain": [40, 90], "nice": false, "zero": false},
                   "axis": {"values": [40,50,60,70,80,90], "labelFontSize": 9, "labelOverlap": false, "domain": false, "ticks": false, "labelPadding": 4, "minExtent": 27, "maxExtent": 27,
                            "title": "单位:%", "titleAngle": 0, "titleAlign": "left", "titleBaseline": "middle", "titleX": -15, "titleY": -11, "titleFont": "Noto Sans CJK SC", "titleFontSize": 9.5, "titleFontWeight": "bold", "titleColor": "#000"}},
             "color": {"field": "s", "type": "nominal", "scale": {"domain": ["中国","美国","日本","德国"], "range": ["#7E1E80","#C6A0F0","#000000","#8C8C8C"]},
                       "legend": {"title": null, "orient": "none", "direction": "horizontal", "legendX": 36.5, "legendY": -44.5, "padding": 7.5, "columns": 2, "columnPadding": -1.5, "rowPadding": 2, "symbolType": "M-4.125,0L4.125,0", "symbolSize": 64, "symbolStrokeWidth": 2.5, "labelFont": "Noto Sans CJK SC", "labelFontSize": 9.3, "labelColor": "#000", "labelOffset": 11, "labelLimit": 300, "labelExpr": "datum.label + '：消费占GDP比重'"}},
             "strokeDash": {"field": "s", "type": "nominal", "scale": {"domain": ["中国","美国","日本","德国"], "range": [[1,0],[1,0],[9,5,2,5],[4,3]]},
                       "legend": {"title": null, "orient": "none", "direction": "horizontal", "legendX": 36.5, "legendY": -44.5, "padding": 7.5, "columns": 2, "columnPadding": -1.5, "rowPadding": 2, "symbolType": "M-4.125,0L4.125,0", "symbolSize": 64, "symbolStrokeWidth": 2.5, "labelFont": "Noto Sans CJK SC", "labelFontSize": 9.3, "labelColor": "#000", "labelOffset": 11, "labelLimit": 300, "labelExpr": "datum.label + '：消费占GDP比重'"}}
           }}
        ]},
        {"width": 343, "height": 20,
         "layer": [
           {"data": {"values": [{}]}, "mark": {"type": "rule", "color": "#a6a6a6", "strokeWidth": 1},
            "encoding": {"y": {"datum": 1, "scale": {"domain": [0, 1]}, "axis": null}}},
           {"data": {"values": [{"t": "资料来源：WDI、光大证券研究所"}]}, "mark": {"type": "text", "align": "left", "baseline": "middle", "font": "Noto Sans CJK SC", "fontSize": 12, "color": "#000"},
            "encoding": {"text": {"field": "t"}, "x": {"datum": 0.02, "scale": {"domain": [0, 1]}, "axis": null}, "y": {"datum": 0.5, "scale": {"domain": [0, 1]}, "axis": null}}}
         ]}
      ]
    },
    {
      "spacing": 0, "align": "none",
      "resolve": {"scale": {"color": "independent", "strokeDash": "independent"}},
      "vconcat": [
        {"width": 339, "height": 29,
         "layer": [
           {"data": {"values": [{"t": "图 14：日本两次消费占 GDP 比例提升（%）"}]}, "mark": {"type": "text", "align": "left", "baseline": "middle", "font": "Noto Sans CJK SC", "fontWeight": "bold", "fontSize": 14, "color": "#8E2A8E"},
            "encoding": {"text": {"field": "t"}, "x": {"datum": 0.006, "scale": {"domain": [0, 1]}, "axis": null}, "y": {"datum": 0.483, "scale": {"domain": [0, 1]}, "axis": null}}},
           {"data": {"values": [{}]}, "mark": {"type": "rule", "color": "#a6a6a6", "strokeWidth": 1},
            "encoding": {"y": {"datum": 0, "scale": {"domain": [0, 1]}, "axis": null}}}
         ]},
        {"spacing": 0, "align": "none",
         "resolve": {"scale": {"color": "independent", "strokeDash": "independent"}},
         "hconcat": [
          {"width": 1, "height": 1, "data": {"values": [{}]}, "mark": {"type": "text", "text": ""}},
          {"width": 284, "height": 120,
           "data": {"values": [
             {"s":"C","x":1955,"v":65.85},{"s":"C","x":1956,"v":64.85},{"s":"C","x":1957,"v":63.6},{"s":"C","x":1958,"v":62.6},{"s":"C","x":1959,"v":63.0},{"s":"C","x":1960,"v":61.85},{"s":"C","x":1961,"v":58.7},{"s":"C","x":1962,"v":57.2},{"s":"C","x":1963,"v":58.0},{"s":"C","x":1964,"v":58.95},{"s":"C","x":1965,"v":57.75},{"s":"C","x":1966,"v":58.5},{"s":"C","x":1967,"v":57.85},{"s":"C","x":1968,"v":56.7},{"s":"C","x":1969,"v":54.7},{"s":"C","x":1970,"v":52.35},{"s":"C","x":1971,"v":53.6},{"s":"C","x":1972,"v":54.0},{"s":"C","x":1973,"v":53.7},{"s":"C","x":1974,"v":54.6},{"s":"C","x":1975,"v":57.1},{"s":"C","x":1976,"v":57.6},{"s":"C","x":1977,"v":57.7},{"s":"C","x":1978,"v":57.85},{"s":"C","x":1979,"v":58.7},{"s":"C","x":1980,"v":54.5},{"s":"C","x":1981,"v":53.95},{"s":"C","x":1982,"v":55.0},{"s":"C","x":1983,"v":55.85},{"s":"C","x":1984,"v":55.1},{"s":"C","x":1985,"v":54.35},{"s":"C","x":1986,"v":54.1},{"s":"C","x":1987,"v":54.35},{"s":"C","x":1988,"v":53.35},{"s":"C","x":1989,"v":53.0},{"s":"C","x":1990,"v":52.95},{"s":"C","x":1991,"v":52.6},{"s":"C","x":1992,"v":53.2},{"s":"C","x":1993,"v":54.1},{"s":"C","x":1994,"v":53.6},{"s":"C","x":1995,"v":53.6},{"s":"C","x":1996,"v":53.35},{"s":"C","x":1997,"v":53.5},{"s":"C","x":1998,"v":53.85},{"s":"C","x":1999,"v":54.85},{"s":"C","x":2000,"v":54.6},{"s":"C","x":2001,"v":55.2},{"s":"C","x":2002,"v":55.85},{"s":"C","x":2003,"v":55.7},{"s":"C","x":2004,"v":55.6},{"s":"C","x":2005,"v":55.7},{"s":"C","x":2006,"v":55.85},{"s":"C","x":2007,"v":56.1},{"s":"C","x":2008,"v":56.85},{"s":"C","x":2009,"v":58.6},{"s":"C","x":2010,"v":57.85},{"s":"C","x":2011,"v":58.35},{"s":"C","x":2012,"v":58.7},{"s":"C","x":2013,"v":59.0},{"s":"C","x":2014,"v":58.5},{"s":"C","x":2015,"v":56.7},{"s":"C","x":2016,"v":55.7},{"s":"C","x":2017,"v":55.6},{"s":"C","x":2018,"v":55.7},
             {"s":"I","x":1970,"v":41.2},{"s":"I","x":1971,"v":37.7},{"s":"I","x":1972,"v":37.5},{"s":"I","x":1973,"v":40.2},{"s":"I","x":1974,"v":39.3},{"s":"I","x":1975,"v":34.75},{"s":"I","x":1976,"v":33.5},{"s":"I","x":1977,"v":32.5},{"s":"I","x":1978,"v":32.5},{"s":"I","x":1979,"v":34.3},{"s":"I","x":1980,"v":34.2},{"s":"I","x":1981,"v":33.1},{"s":"I","x":1982,"v":31.7},{"s":"I","x":1983,"v":30.3},{"s":"I","x":1984,"v":30.2},{"s":"I","x":1985,"v":30.2},{"s":"I","x":1986,"v":30.2},{"s":"I","x":1987,"v":31.0},{"s":"I","x":1988,"v":32.8},{"s":"I","x":1989,"v":33.9},{"s":"I","x":1990,"v":34.6},{"s":"I","x":1991,"v":34.2},{"s":"I","x":1992,"v":32.25},{"s":"I","x":1993,"v":30.8},{"s":"I","x":1994,"v":29.5},{"s":"I","x":1995,"v":30.0},{"s":"I","x":1996,"v":31.0},{"s":"I","x":1997,"v":29.9},{"s":"I","x":1998,"v":28.1},{"s":"I","x":1999,"v":27.25},{"s":"I","x":2000,"v":27.0},{"s":"I","x":2001,"v":26.0},{"s":"I","x":2002,"v":24.9},{"s":"I","x":2003,"v":24.5},{"s":"I","x":2004,"v":24.5},{"s":"I","x":2005,"v":24.75},{"s":"I","x":2006,"v":25.0},{"s":"I","x":2007,"v":24.75},{"s":"I","x":2008,"v":24.5},{"s":"I","x":2009,"v":21.4},{"s":"I","x":2010,"v":21.4},{"s":"I","x":2011,"v":22.0},{"s":"I","x":2012,"v":22.7},{"s":"I","x":2013,"v":23.1},{"s":"I","x":2014,"v":23.7},{"s":"I","x":2015,"v":24.2},{"s":"I","x":2016,"v":23.7},{"s":"I","x":2017,"v":24.2},{"s":"I","x":2018,"v":24.5}
           ]},
           "encoding": {
             "x": {"field": "x", "type": "quantitative", "scale": {"domain": [1954.4, 2018.6], "nice": false, "zero": false},
                   "axis": {"title": null, "values": [1955,1959,1963,1967,1971,1975,1979,1983,1987,1991,1995,1999,2003,2007,2011,2015], "format": "d", "labelAngle": 270, "labelFontSize": 9.5, "labelOverlap": false, "labelFlush": false, "minExtent": 46, "maxExtent": 46}}
           },
           "layer": [
             {"encoding": {
                "y": {"field": "v", "type": "quantitative", "scale": {"domain": [50, 68], "nice": false, "zero": false},
                      "axis": {"title": null, "orient": "left", "values": [50,52,54,56,58,60,62,64,66,68], "labelFontSize": 9.5, "labelOverlap": false, "minExtent": 25, "maxExtent": 25}}
              },
              "layer": [
               {"transform": [{"filter": "datum.s === 'C'"}],
                "mark": {"type": "line", "strokeWidth": 3},
                "encoding": {
                  "color": {"field": "s", "type": "nominal", "scale": {"domain": ["C","I"], "range": ["#7E1E80","#C6A0F0"]},
                            "legend": {"title": null, "orient": "none", "direction": "horizontal", "legendX": 45, "legendY": -40.5, "padding": 11.5, "columns": 2, "columnPadding": 13.5, "symbolType": "M-3.375,0L3.375,0", "symbolSize": 64, "symbolStrokeWidth": 3.5, "labelFont": "Liberation Sans, Noto Sans CJK SC", "labelFontSize": 10, "labelColor": "#000", "labelOffset": 6.5, "labelLimit": 300, "labelExpr": "datum.label === 'C' ? '消费/GDP' : '投资/GDP(右轴)'"}}
                }},
               {"data": {"values": [{"x": 1971.9, "v": 57.2, "x2": 1978.1, "v2": 60.35}, {"x": 1990.7, "v": 55.35, "x2": 2008.2, "v2": 60.35}]},
                "mark": {"type": "rule", "color": "#E8261E", "strokeWidth": 1.2},
                "encoding": {"x2": {"field": "x2"}, "y2": {"field": "v2"}}},
               {"data": {"values": [{"x": 1978.1, "v": 60.35}]},
                "mark": {"type": "point", "shape": "triangle-up", "filled": true, "color": "#E8261E", "opacity": 1, "size": 40, "angle": 53}},
               {"data": {"values": [{"x": 2008.2, "v": 60.35}]},
                "mark": {"type": "point", "shape": "triangle-up", "filled": true, "color": "#E8261E", "opacity": 1, "size": 40, "angle": 67}}
              ]},
             {"transform": [{"filter": "datum.s === 'I'"}],
              "mark": {"type": "line", "strokeWidth": 3},
              "encoding": {
                "y": {"field": "v", "type": "quantitative", "scale": {"domain": [15, 45], "nice": false, "zero": false},
                      "axis": {"title": null, "orient": "right", "values": [15,20,25,30,35,40,45], "labelFontSize": 9.5, "labelOverlap": false}},
                "color": {"field": "s", "type": "nominal", "scale": {"domain": ["C","I"], "range": ["#7E1E80","#C6A0F0"]},
                          "legend": {"title": null, "orient": "none", "direction": "horizontal", "legendX": 45, "legendY": -40.5, "padding": 11.5, "columns": 2, "columnPadding": 13.5, "symbolType": "M-3.375,0L3.375,0", "symbolSize": 64, "symbolStrokeWidth": 3.5, "labelFont": "Liberation Sans, Noto Sans CJK SC", "labelFontSize": 10, "labelColor": "#000", "labelOffset": 6.5, "labelLimit": 300, "labelExpr": "datum.label === 'C' ? '消费/GDP' : '投资/GDP(右轴)'"}}
              }}
           ],
           "resolve": {"scale": {"y": "independent"}}}
        ]},
        {"width": 339, "height": 20,
         "layer": [
           {"data": {"values": [{}]}, "mark": {"type": "rule", "color": "#a6a6a6", "strokeWidth": 1},
            "encoding": {"y": {"datum": 1, "scale": {"domain": [0, 1]}, "axis": null}}},
           {"data": {"values": [{"t": "资料来源：wind、光大证券研究所"}]}, "mark": {"type": "text", "align": "left", "baseline": "middle", "font": "Noto Sans CJK SC", "fontSize": 12, "color": "#000"},
            "encoding": {"text": {"field": "t"}, "x": {"datum": 0.006, "scale": {"domain": [0, 1]}, "axis": null}, "y": {"datum": 0.5, "scale": {"domain": [0, 1]}, "axis": null}}}
         ]}
      ]
    }
  ]
},
{
  "width": 715, "height": 50,
  "layer": [
    {"data": {"values": [{}]}, "mark": {"type": "rule", "color": "#555555", "strokeWidth": 1.5},
     "encoding": {"y": {"datum": 0.34, "scale": {"domain": [0, 1]}, "axis": null}}},
    {"data": {"values": [{"t": "敬请参阅最后一页特别声明"}]}, "mark": {"type": "text", "align": "left", "baseline": "middle", "font": "Noto Sans CJK SC", "fontSize": 12, "color": "#000"},
     "encoding": {"text": {"field": "t"}, "x": {"datum": 0.003, "scale": {"domain": [0, 1]}, "axis": null}, "y": {"datum": 0.1, "scale": {"domain": [0, 1]}, "axis": null}}},
    {"data": {"values": [{"t": "-5-"}]}, "mark": {"type": "text", "align": "center", "baseline": "middle", "font": "Liberation Serif", "fontSize": 12, "color": "#000"},
     "encoding": {"text": {"field": "t"}, "x": {"datum": 0.495, "scale": {"domain": [0, 1]}, "axis": null}, "y": {"datum": 0.1, "scale": {"domain": [0, 1]}, "axis": null}}},
    {"data": {"values": [{"t": "证券研究报告"}]}, "mark": {"type": "text", "align": "right", "baseline": "middle", "font": "Noto Sans CJK SC", "fontSize": 12, "color": "#000"},
     "encoding": {"text": {"field": "t"}, "x": {"datum": 0.989, "scale": {"domain": [0, 1]}, "axis": null}, "y": {"datum": 0.1, "scale": {"domain": [0, 1]}, "axis": null}}}
  ]
}
]
}
